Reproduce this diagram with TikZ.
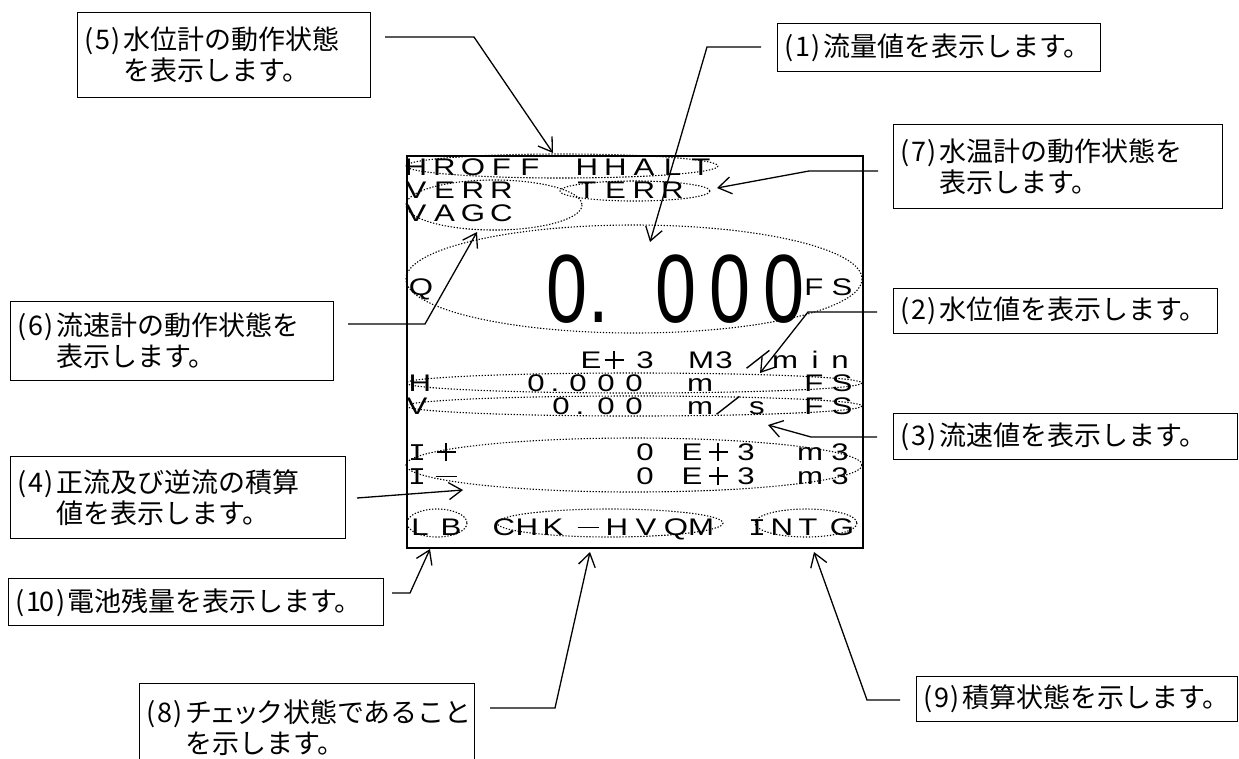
\documentclass[tikz,border=0pt]{standalone}
\usepackage{fontspec}
\usepackage{graphicx}
\setmainfont{Liberation Sans}
\newfontfamily\jpfont{Noto Sans CJK JP}
\newfontfamily\lcdmono{Liberation Mono}
\usetikzlibrary{arrows.meta}
\newcommand\pn[1]{\makebox[13.5pt]{(}\makebox[13.5pt]{#1}\makebox[13.5pt]{)}}
\newcommand\pnn[2]{\makebox[13.5pt]{(}\makebox[13.5pt]{#1}\makebox[13.5pt]{#2}\makebox[13.5pt]{)}}
\newcommand\lc[1]{\scalebox{1.3}[1]{#1}}
\newcommand\lcI{\scalebox{1.25}[1]{\lcdmono I}}
\newcommand\lcbar{\raisebox{7pt}{\rule{21pt}{1.4pt}}}
\newcommand\lcplus{\makebox[19pt][l]{\rule[7.5pt]{19pt}{1.4pt}\kern-10.2pt\rule[-1pt]{1.4pt}{18pt}}}
\newcommand\lcslash{\raisebox{8pt}{\rotatebox[origin=c]{38}{\rule{29pt}{1.4pt}}}}
\newcommand\bigz{\scalebox{0.76}[1]{0}}
\begin{document}
\begin{tikzpicture}[x=1pt,y=-1pt,
  lcd/.style={inner sep=0pt, anchor=base, font=\fontsize{24}{24}\selectfont},
  big/.style={inner sep=0pt, anchor=base, font=\fontsize{97}{97}\selectfont},
  callout/.style={draw, line width=1.3pt, inner xsep=5pt, inner ysep=0pt, anchor=north west, align=left, font=\jpfont\fontsize{27}{31}\selectfont},
  ring/.style={line width=1.1pt, dash pattern=on 1.3pt off 1.7pt},
  tip/.style={line width=1.3pt, -{Straight Barb[length=13pt,width=17pt]}}
]
\useasboundingbox (0,0) rectangle (1239,758);

% display
\node[draw, line width=2pt, minimum width=456pt, minimum height=392pt, anchor=north west, inner sep=0pt] (lcdbox) at (406,155) {};

% callouts
\node[callout, minimum width=293pt, minimum height=85pt, text width=283pt] (c5) at (77,12) {\pn{5}水位計の動作状態\\\hspace*{40.5pt}を表示します。};
\node[callout, minimum width=323pt, minimum height=48pt, text width=313pt] (c1) at (777,23) {\pn{1}流量値を表示します。};
\node[callout, minimum width=329pt, minimum height=84pt, text width=319pt] (c7) at (893,124) {\pn{7}水温計の動作状態を\\\hspace*{40.5pt}表示します。};
\node[callout, minimum width=323pt, minimum height=79pt, text width=313pt] (c6) at (10,301) {\pn{6}流速計の動作状態を\\\hspace*{40.5pt}表示します。};
\node[callout, minimum width=324pt, minimum height=45pt, text width=314pt] (c2) at (893,288) {\pn{2}水位値を表示します。};
\node[callout, minimum width=344pt, minimum height=46pt, text width=334pt] (c3) at (893,413) {\pn{3}流速値を表示します。};
\node[callout, minimum width=335pt, minimum height=82pt, text width=325pt] (c4) at (10,456) {\pn{4}正流及び逆流の積算\\\hspace*{40.5pt}値を表示します。};
\node[callout, minimum width=375pt, minimum height=47pt, text width=365pt] (c10) at (8,578) {\pnn{1}{0}電池残量を表示します。};
\node[callout, minimum width=335pt, minimum height=87pt, text width=325pt] (c8) at (139,683) {\pn{8}チ\kern-3ptェ\kern-4ptッ\kern-3ptク状態であること\\\hspace*{40.5pt}を示します。};
\node[callout, minimum width=321pt, minimum height=45pt, text width=311pt] (c9) at (916,676) {\pn{9}積算状態を示します。};

% rings
\draw[ring] (562,166) ellipse [x radius=156, y radius=12];
\draw[ring] (635,191) ellipse [x radius=75, y radius=10];
\draw[ring] (494,205) ellipse [x radius=88, y radius=25];
\draw[ring] (634,279) ellipse [x radius=228, y radius=54];
\draw[ring] (634,383) ellipse [x radius=228, y radius=10];
\draw[ring] (634,406) ellipse [x radius=228, y radius=10];
\draw[ring] (634,465) ellipse [x radius=228, y radius=27];
\draw[ring] (437,523) ellipse [x radius=30, y radius=14];
\draw[ring] (610,523) ellipse [x radius=113, y radius=14];
\draw[ring] (806,523) ellipse [x radius=51, y radius=14];

% lcd text
\foreach \c/\x [count=\i] in {H/416,R/444.5,O/473,F/501.5,F/530,H/587,H/615.5,A/644,L/672.5,T/701}
  \node[lcd] (ra\i) at (\x,175) {\lc{\c}};
\foreach \c/\x [count=\i] in {V/416,E/444.5,R/473,R/501.5,T/587,E/615.5,R/644,R/672.5}
  \node[lcd] (rb\i) at (\x,198) {\lc{\c}};
\foreach \c/\x [count=\i] in {V/416,A/444.5,G/473,C/501.5}
  \node[lcd] (rc\i) at (\x,221) {\lc{\c}};
\foreach \c/\x [count=\i] in {Q/421,F/814,S/842}
  \node[lcd] (rq\i) at (\x,295) {\lc{\c}};
\foreach \x [count=\i] in {566.5,675.5,730,784}
  \node[big] (bz\i) at (\x,322) {\bigz};
\node[big] (bdot) at (599,322) {\scalebox{0.76}[1]{.}};
% E+3 M3/min
\foreach \c/\x [count=\i] in {E/591,3/645,M/701,3/724,m/785,i/815,n/840}
  \node[lcd] (re\i) at (\x,368) {\lc{\c}};
\node[lcd] (replus) at (614,368) {\lcplus};
\node[lcd] (reslash) at (758,368) {\lcslash};
% H row
\foreach \c/\x [count=\i] in {H/420,0/536,./555,0/578,0/606,0/634,m/700,F/814,S/842}
  \node[lcd] (rh\i) at (\x,391) {\lc{\c}};
% V row
\foreach \c/\x [count=\i] in {V/417,0/561,./580,0/606,0/634,m/700,s/757,F/814,S/842}
  \node[lcd] (rv\i) at (\x,414) {\lc{\c}};
\node[lcd] (rvslash) at (728,414) {\lcslash};
% I+ / I- rows
\node[lcd] (rp0) at (417,460) {\lcI};
\node[lcd] (rm0) at (417,484) {\lcI};
\node[lcd] (rp1) at (446,460) {\lcplus};
\node[lcd] (rm1) at (446,484) {\lcbar};
\foreach \c/\x [count=\i] in {0/645,E/692,3/746,m/810,3/840}{
  \node[lcd] (rpa\i) at (\x,460) {\lc{\c}};
  \node[lcd] (rma\i) at (\x,484) {\lc{\c}};
}
\node[lcd] (rpplus) at (718,460) {\lcplus};
\node[lcd] (rmplus) at (718,484) {\lcplus};
% bottom row
\foreach \c/\x [count=\i] in {L/420,B/451,C/504,H/527,K/553,H/617,V/646,Q/676,M/701,N/782,T/808,G/842}
  \node[lcd] (rl\i) at (\x,535) {\lc{\c}};
\node[lcd] (rlbar) at (588,535) {\lcbar};
\node[lcd] (rlI) at (757,535) {\lcI};

% connectors
\coordinate (a5) at (385,37);  \coordinate (b5) at (474,37);  \coordinate (t5) at (553,153);
\coordinate (a1) at (761,47);  \coordinate (b1) at (707,47);  \coordinate (t1) at (650,242);
\coordinate (a7) at (878,171); \coordinate (b7) at (809,171); \coordinate (t7) at (717,188);
\coordinate (a6) at (348,324); \coordinate (b6) at (425,324); \coordinate (t6) at (477,232);
\coordinate (a2) at (877,312); \coordinate (b2) at (808,312); \coordinate (t2) at (760,373);
\coordinate (a3) at (877,437); \coordinate (b3) at (811,437); \coordinate (t3) at (768,425);
\coordinate (a4) at (357,498); \coordinate (t4) at (463,490);
\coordinate (a10) at (392,593); \coordinate (b10) at (410,593); \coordinate (t10) at (430,549);
\coordinate (a8) at (490,708); \coordinate (b8) at (555,708); \coordinate (t8) at (590,552);
\coordinate (a9) at (900,700); \coordinate (b9) at (867,700); \coordinate (t9) at (814,552);
\draw[tip] (a5) -- (b5) -- (t5);
\draw[tip] (a1) -- (b1) -- (t1);
\draw[tip] (a7) -- (b7) -- (t7);
\draw[tip] (a6) -- (b6) -- (t6);
\draw[tip] (a2) -- (b2) -- (t2);
\draw[tip] (a3) -- (b3) -- (t3);
\draw[tip] (a4) -- (t4);
\draw[tip] (a10) -- (b10) -- (t10);
\draw[tip] (a8) -- (b8) -- (t8);
\draw[tip] (a9) -- (b9) -- (t9);
\end{tikzpicture}
\end{document}
